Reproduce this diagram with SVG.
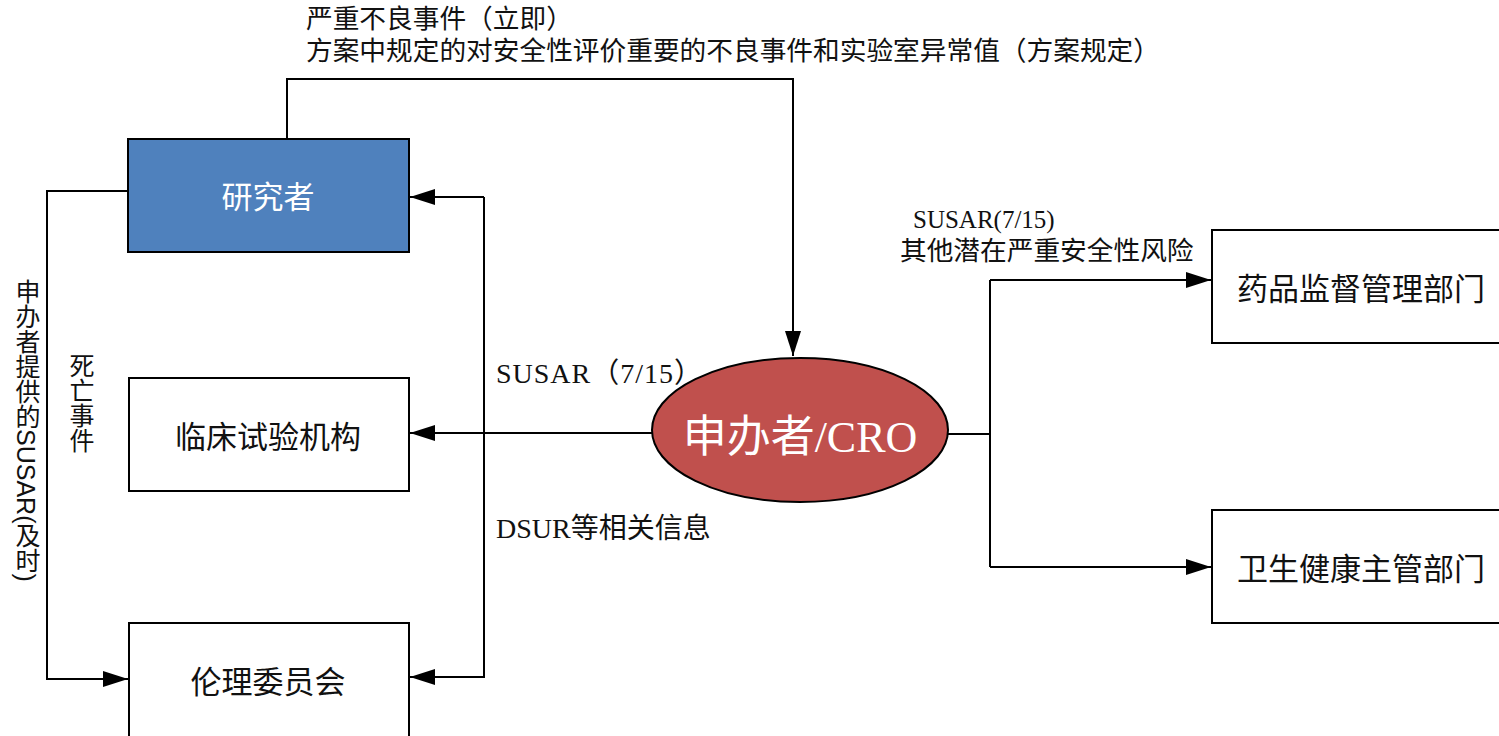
<svg xmlns="http://www.w3.org/2000/svg" width="1499" height="736" viewBox="0 0 1499 736">
<style>
.box{fill:#fff;stroke:#000;stroke-width:2}
.blue{fill:#4F81BD;stroke:#000;stroke-width:2}
.ell{fill:#C0504D;stroke:#000;stroke-width:2}
.ln{fill:none;stroke:#000;stroke-width:2}
text{font-family:"Liberation Serif","Noto Sans CJK SC",serif;fill:#111}
.nt{font-size:31px;text-anchor:middle}
.w{fill:#fff}
.lb{font-size:26.7px}
.vt{writing-mode:tb;font-family:"Liberation Sans","Noto Sans CJK SC",sans-serif}
</style>
<defs>
<marker id="ah" markerUnits="userSpaceOnUse" markerWidth="26" markerHeight="16" refX="25" refY="8" orient="auto">
<path d="M0,0 L25,8 L0,16 Z" fill="#000"/>
</marker>
</defs>
<g id="connectors">
<polyline class="ln" points="287,139 287,79 793,79 793,356" marker-end="url(#ah)"/>
<polyline class="ln" points="128,191 47,191 47,679 128,679" marker-end="url(#ah)"/>
<line class="ln" x1="652" y1="433" x2="410" y2="433" marker-end="url(#ah)"/>
<line class="ln" x1="484" y1="197" x2="484" y2="678"/>
<line class="ln" x1="484" y1="197" x2="410" y2="197" marker-end="url(#ah)"/>
<line class="ln" x1="484" y1="677" x2="410" y2="677" marker-end="url(#ah)"/>
<polyline class="ln" points="948,434 990,434"/>
<line class="ln" x1="990" y1="280" x2="990" y2="567"/>
<line class="ln" x1="990" y1="280" x2="1211" y2="280" marker-end="url(#ah)"/>
<line class="ln" x1="990" y1="567" x2="1211" y2="567" marker-end="url(#ah)"/>
</g>
<g id="investigator">
<rect class="blue" x="128" y="139" width="281" height="113"/>
<text class="nt w" x="268" y="208" font-size="29">研究者</text>
</g>
<g id="site">
<rect class="box" x="129" y="378" width="280" height="113"/>
<text class="nt" x="268" y="448">临床试验机构</text>
</g>
<g id="ethics">
<rect class="box" x="129" y="623" width="280" height="130"/>
<text class="nt" x="268" y="693">伦理委员会</text>
</g>
<g id="sponsor">
<ellipse class="ell" cx="800" cy="430" rx="148" ry="72"/>
<text x="800" y="452" text-anchor="middle" font-size="44" class="w">申办者/CRO</text>
</g>
<g id="nmpa">
<rect class="box" x="1212" y="230" width="300" height="113"/>
<text class="nt" x="1361" y="300">药品监督管理部门</text>
</g>
<g id="nhc">
<rect class="box" x="1212" y="510" width="300" height="113"/>
<text class="nt" x="1361" y="580">卫生健康主管部门</text>
</g>
<g id="labels">
<text class="lb" x="306" y="28">严重不良事件（立即）</text>
<text class="lb" x="306" y="60">方案中规定的对安全性评价重要的不良事件和实验室异常值（方案规定）</text>
<text x="913" y="228" font-size="25">SUSAR(7/15)</text>
<text class="lb" x="900" y="260">其他潜在严重安全性风险</text>
<text x="496" y="383" font-size="28" letter-spacing="1">SUSAR（7/15）</text>
<text x="496" y="538" font-size="28">DSUR等相关信息</text>
<text class="vt" x="80" y="353" font-size="25">死亡事件</text>
<text class="vt" x="26" y="279" font-size="25">申办者提供的SUSAR(及时)</text>
</g>
</svg>
